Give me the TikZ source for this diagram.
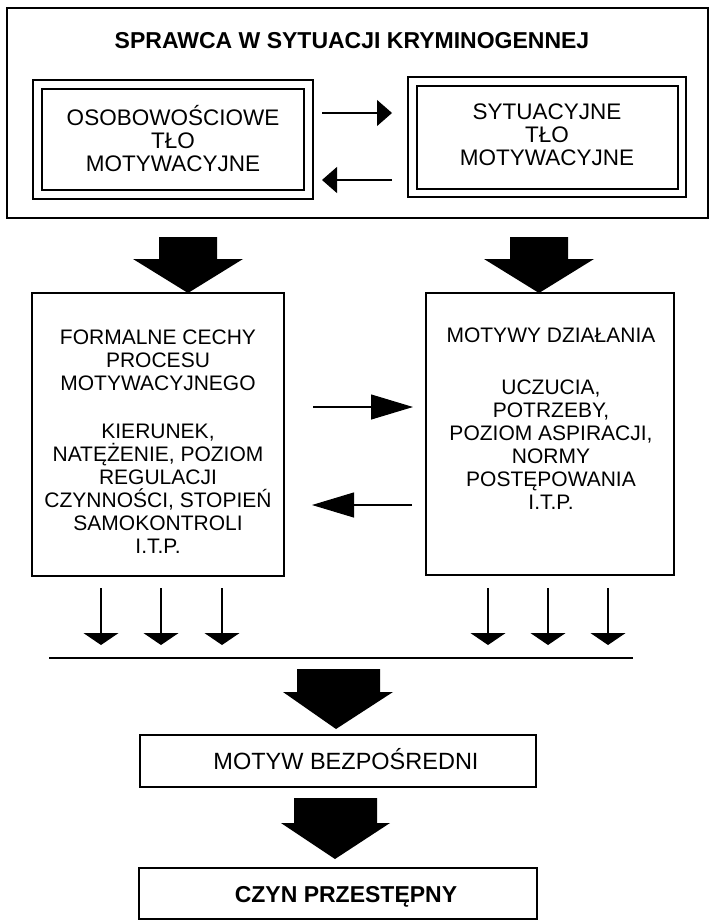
\documentclass[tikz,border=0pt]{standalone}
\usepackage{fontspec}
\setmainfont{Liberation Sans}
\usetikzlibrary{arrows.meta}
\begin{document}
\begin{tikzpicture}[x=1pt,y=-1pt,
  box/.style={draw, line width=1.2pt, inner sep=0pt},
  txt/.style={align=center, inner sep=0pt},
  topfont/.style={font=\fontsize{22.5}{23}\selectfont},
  midfont/.style={font=\fontsize{21}{23}\selectfont},
  thinarrow/.style={line width=1.1pt},
  shortarr/.style={thinarrow, -{Triangle[length=15pt,width=26pt]}},
  longarr/.style={thinarrow, -{Triangle[length=42pt,width=25pt]}},
  flatarr/.style={thinarrow, -{Triangle[length=12pt,width=35pt]}},
  blockarrow/.style={fill=black}]
\useasboundingbox (0,0) rectangle (710,920);

% outer frame
\node[box, line width=1.4pt, minimum width=701pt, minimum height=210pt] (outer) at (357.5,113) {};
\node[txt, font=\fontsize{23}{26}\selectfont\bfseries] (title) at (352,41) {SPRAWCA W SYTUACJI KRYMINOGENNEJ};

% double boxes
\node[box, minimum width=280pt, minimum height=119pt] (lo) at (173,139.5) {};
\node[box, minimum width=262pt, minimum height=101pt] (li) at (173,139.5) {};
\node[box, minimum width=278pt, minimum height=120pt] (ro) at (547,137) {};
\node[box, minimum width=261pt, minimum height=103pt] (ri) at (547.5,137.5) {};
\node[txt, topfont] (ltxt) at (173,139) {OSOBOWOŚCIOWE\\TŁO\\MOTYWACYJNE};
\node[txt, topfont] (rtxt) at (547,135) {SYTUACYJNE\\TŁO\\MOTYWACYJNE};

% arrows between double boxes
\coordinate (a1s) at (322,113);
\coordinate (a1e) at (392,113);
\coordinate (a2s) at (392,180);
\coordinate (a2e) at (322,180);
\draw[shortarr] (a1s) -- (a1e);
\draw[shortarr] (a2s) -- (a2e);

% block arrows from frame
\fill[blockarrow] (159,237) -- (217,237) -- (217,259) -- (243,259) -- (188,293) -- (133,259) -- (159,259) -- cycle;
\fill[blockarrow] (510,237) -- (568,237) -- (568,259) -- (594,259) -- (539,293) -- (484,259) -- (510,259) -- cycle;

% middle boxes
\node[box, minimum width=252pt, minimum height=283pt] (fbox) at (158,434.5) {};
\node[box, minimum width=248pt, minimum height=282pt] (mbox) at (550,434) {};
\node[txt, midfont] (ftxt) at (158,441.5) {FORMALNE CECHY\\PROCESU\\MOTYWACYJNEGO\\[25pt]KIERUNEK,\\NATĘŻENIE, POZIOM\\REGULACJI\\CZYNNOŚCI, STOPIEŃ\\SAMOKONTROLI\\I.T.P.};
\node[txt, midfont] (mtxt) at (551,418.5) {MOTYWY DZIAŁANIA\\[29pt]UCZUCIA,\\POTRZEBY,\\POZIOM ASPIRACJI,\\NORMY\\POSTĘPOWANIA\\I.T.P.};

% arrows between middle boxes
\coordinate (b1s) at (313,407);
\coordinate (b1e) at (413,407);
\coordinate (b2s) at (412,505);
\coordinate (b2e) at (312,505);
\draw[longarr] (b1s) -- (b1e);
\draw[longarr] (b2s) -- (b2e);

% small downward arrows
\foreach \xx/\nm in {101/s1,161/s2,222/s3,488/s4,548/s5,608/s6}{
  \coordinate (\nm a) at (\xx,588);
  \coordinate (\nm b) at (\xx,645);
  \draw[flatarr] (\nm a) -- (\nm b);
}

% horizontal line
\coordinate (h1) at (49,658);
\coordinate (h2) at (633,658);
\draw[line width=1.2pt] (h1) -- (h2);

% block arrow to MOTYW BEZPOSREDNI
\fill[blockarrow] (297,669) -- (380,669) -- (380,692) -- (393,692) -- (336,729) -- (283,692) -- (297,692) -- cycle;
\node[box, minimum width=396pt, minimum height=52pt] (motyw) at (338,761) {};
\node[txt, font=\fontsize{23.5}{26}\selectfont] (motywt) at (346,759) {MOTYW BEZPOŚREDNI};

% block arrow to CZYN PRZESTEPNY
\fill[blockarrow] (294,798) -- (377,798) -- (377,823) -- (390,823) -- (335,859) -- (281,823) -- (294,823) -- cycle;
\node[box, minimum width=398pt, minimum height=51pt] (czyn) at (338,893.5) {};
\node[txt, font=\fontsize{23}{26}\selectfont\bfseries] (czynt) at (346,897) {CZYN PRZESTĘPNY};
\end{tikzpicture}
\end{document}
